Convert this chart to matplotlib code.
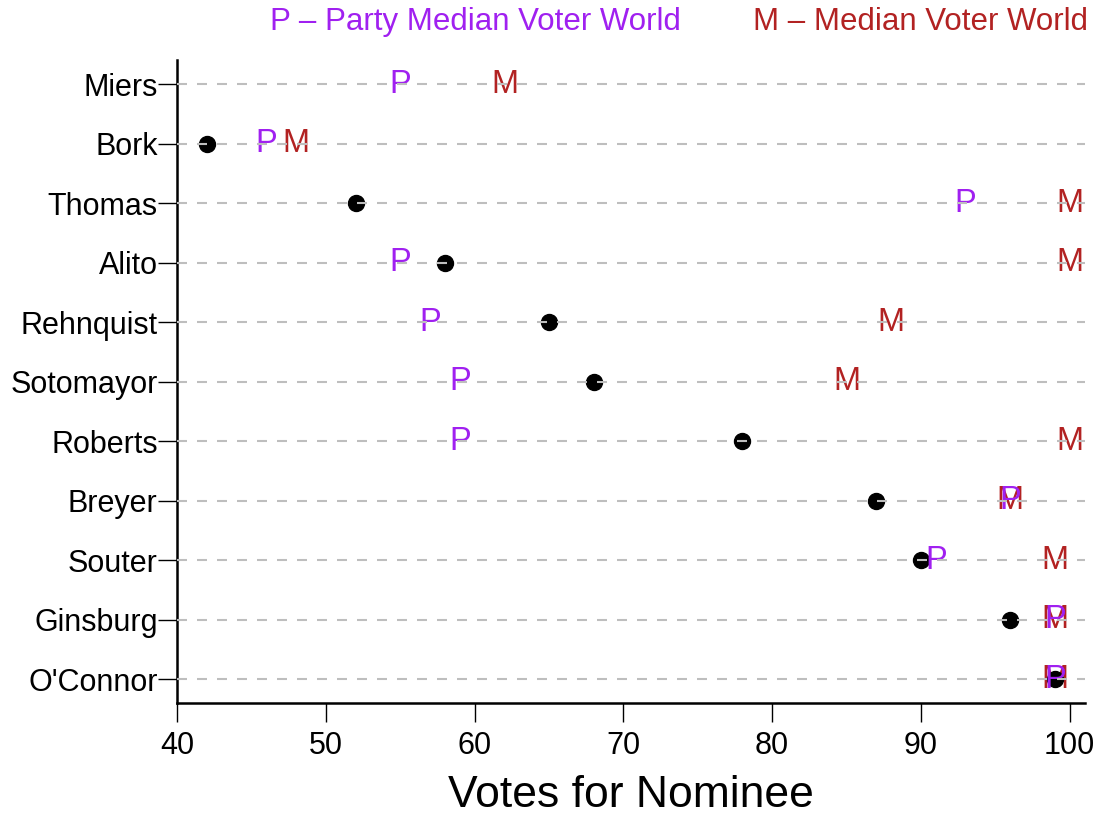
import numpy as np
import matplotlib
matplotlib.use("Agg")
import matplotlib.pyplot as plt

plt.rcParams["font.family"] = ["Liberation Sans", "DejaVu Sans"]

# nominees, top to bottom
nominees = ["Miers", "Bork", "Thomas", "Alito", "Rehnquist", "Sotomayor",
            "Roberts", "Breyer", "Souter", "Ginsburg", "O'Connor"]
# actual confirmation votes (Miers withdrew, no vote)
actual = [np.nan, 42, 52, 58, 65, 68, 78, 87, 90, 96, 99]
# simulated votes under the party median voter world
party_median = [55, 46, 93, 55, 57, 59, 59, 96, 91, 99, 99]
# simulated votes under the median voter world
median_voter = [62, 48, 100, 100, 88, 85, 100, 96, 99, 99, 99]

purple = "#A020F0"
brick = "#B22222"

fig = plt.figure(figsize=(11, 8.15), dpi=100)
ax = fig.add_axes([0.161, 0.1374, 0.825, 0.7886])

ypos = np.arange(len(nominees))

for x, y in zip(median_voter, ypos):
    ax.text(x, y, "M", color=brick, fontsize=23.5, ha="center", va="center", zorder=3)

ax.plot(actual, ypos, "o", color="black", ms=11.5, zorder=4)

for x, y in zip(party_median, ypos):
    ax.text(x, y, "P", color=purple, fontsize=23.5, ha="center", va="center", zorder=5)

# dashed guide lines sit on top of all the marks
for y in ypos:
    ax.plot([40, 101], [y, y], color="#BEBEBE", lw=1.5, dashes=(4.8, 4.8), zorder=6)

ax.set_xlim(40, 101)
ax.set_ylim(len(nominees) - 1 + 0.4, -0.4)
ax.set_yticks(ypos)
ax.set_yticklabels(nominees)
ax.set_xticks([40, 50, 60, 70, 80, 90, 100])

for side in ["top", "right"]:
    ax.spines[side].set_visible(False)
for side in ["left", "bottom"]:
    ax.spines[side].set_linewidth(1.8)
ax.tick_params(axis="both", direction="out", length=14, width=1.0, labelsize=22)
ax.tick_params(axis="y", pad=0)
ax.tick_params(axis="x", pad=6)

ax.set_xlabel("Votes for Nominee", fontsize=32, labelpad=10)

fig.text(0.432, 0.973, "P \u2013 Party Median Voter World", color=purple,
         fontsize=22.5, ha="center", va="center")
fig.text(0.989, 0.973, "M \u2013 Median Voter World", color=brick,
         fontsize=22.5, ha="right", va="center")

fig.savefig("out.png", dpi=100)
